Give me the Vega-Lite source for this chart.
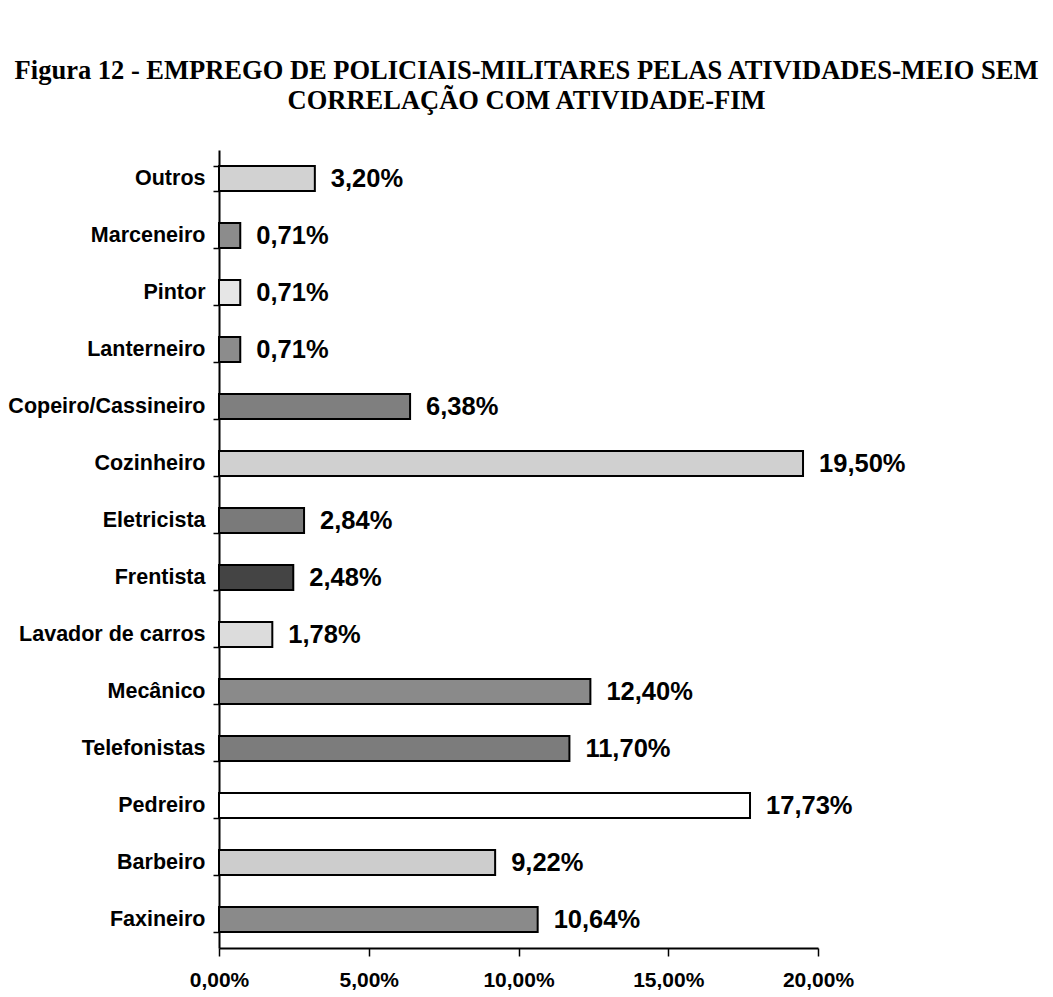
{
  "$schema": "https://vega.github.io/schema/vega-lite/v6.json",
  "autosize": "none",
  "width": 599,
  "height": 798,
  "padding": {"left": 219, "top": 150, "right": 235, "bottom": 49},
  "background": "white",
  "title": {
    "text": ["Figura 12 - EMPREGO DE POLICIAIS-MILITARES PELAS ATIVIDADES-MEIO SEM", "CORRELAÇÃO COM ATIVIDADE-FIM"],
    "font": "Liberation Serif",
    "fontSize": 26.5,
    "fontWeight": "bold",
    "color": "black",
    "anchor": "middle",
    "baseline": "bottom",
    "lineHeight": 30,
    "offset": -2,
    "dx": 8
  },
  "config": {
    "locale": {"number": {"decimal": ",", "thousands": ".", "grouping": [3], "currency": ["R$", ""]}},
    "view": {"stroke": null},
    "axis": {"grid": false, "domainColor": "black", "domainWidth": 2, "tickColor": "black", "tickWidth": 1.5, "labelColor": "black", "labelFont": "Liberation Sans", "labelFontWeight": "bold", "title": null}
  },
  "data": {
    "values": [
      {"cat": "Outros", "pct": 0.0320},
      {"cat": "Marceneiro", "pct": 0.0071},
      {"cat": "Pintor", "pct": 0.0071},
      {"cat": "Lanterneiro", "pct": 0.0071},
      {"cat": "Copeiro/Cassineiro", "pct": 0.0638},
      {"cat": "Cozinheiro", "pct": 0.1950},
      {"cat": "Eletricista", "pct": 0.0284},
      {"cat": "Frentista", "pct": 0.0248},
      {"cat": "Lavador de carros", "pct": 0.0178},
      {"cat": "Mecânico", "pct": 0.1240},
      {"cat": "Telefonistas", "pct": 0.1170},
      {"cat": "Pedreiro", "pct": 0.1773},
      {"cat": "Barbeiro", "pct": 0.0922},
      {"cat": "Faxineiro", "pct": 0.1064}
    ]
  },
  "encoding": {
    "y": {
      "field": "cat", "type": "nominal", "sort": null,
      "scale": {"paddingInner": 0.56, "paddingOuter": 0.28},
      "axis": {"tickBand": "extent", "tickSize": 6, "labelFontSize": 21.5, "labelPadding": 8, "labelLimit": 0}
    },
    "x": {
      "field": "pct", "type": "quantitative",
      "scale": {"domain": [0, 0.2], "nice": false},
      "axis": {"values": [0, 0.05, 0.1, 0.15, 0.2], "format": ".2%", "tickSize": 8, "labelFontSize": 21, "labelPadding": 13, "labelFlush": false}
    }
  },
  "layer": [
    {
      "mark": {"type": "bar", "stroke": "black", "strokeWidth": 2},
      "encoding": {
        "color": {
          "field": "cat", "type": "nominal", "legend": null,
          "scale": {
            "domain": ["Outros", "Marceneiro", "Pintor", "Lanterneiro", "Copeiro/Cassineiro", "Cozinheiro", "Eletricista", "Frentista", "Lavador de carros", "Mecânico", "Telefonistas", "Pedreiro", "Barbeiro", "Faxineiro"],
            "range": ["#d2d2d2", "#8c8c8c", "#e6e6e6", "#8c8c8c", "#7f7f7f", "#d0d0d0", "#7a7a7a", "#444444", "#dcdcdc", "#8a8a8a", "#7c7c7c", "#ffffff", "#cdcdcd", "#8a8a8a"]
          }
        }
      }
    },
    {
      "mark": {"type": "text", "align": "left", "baseline": "middle", "dx": 16, "font": "Liberation Sans", "fontWeight": "bold", "fontSize": 25.5, "color": "black"},
      "encoding": {"text": {"field": "pct", "type": "quantitative", "format": ".2%"}}
    }
  ]
}
